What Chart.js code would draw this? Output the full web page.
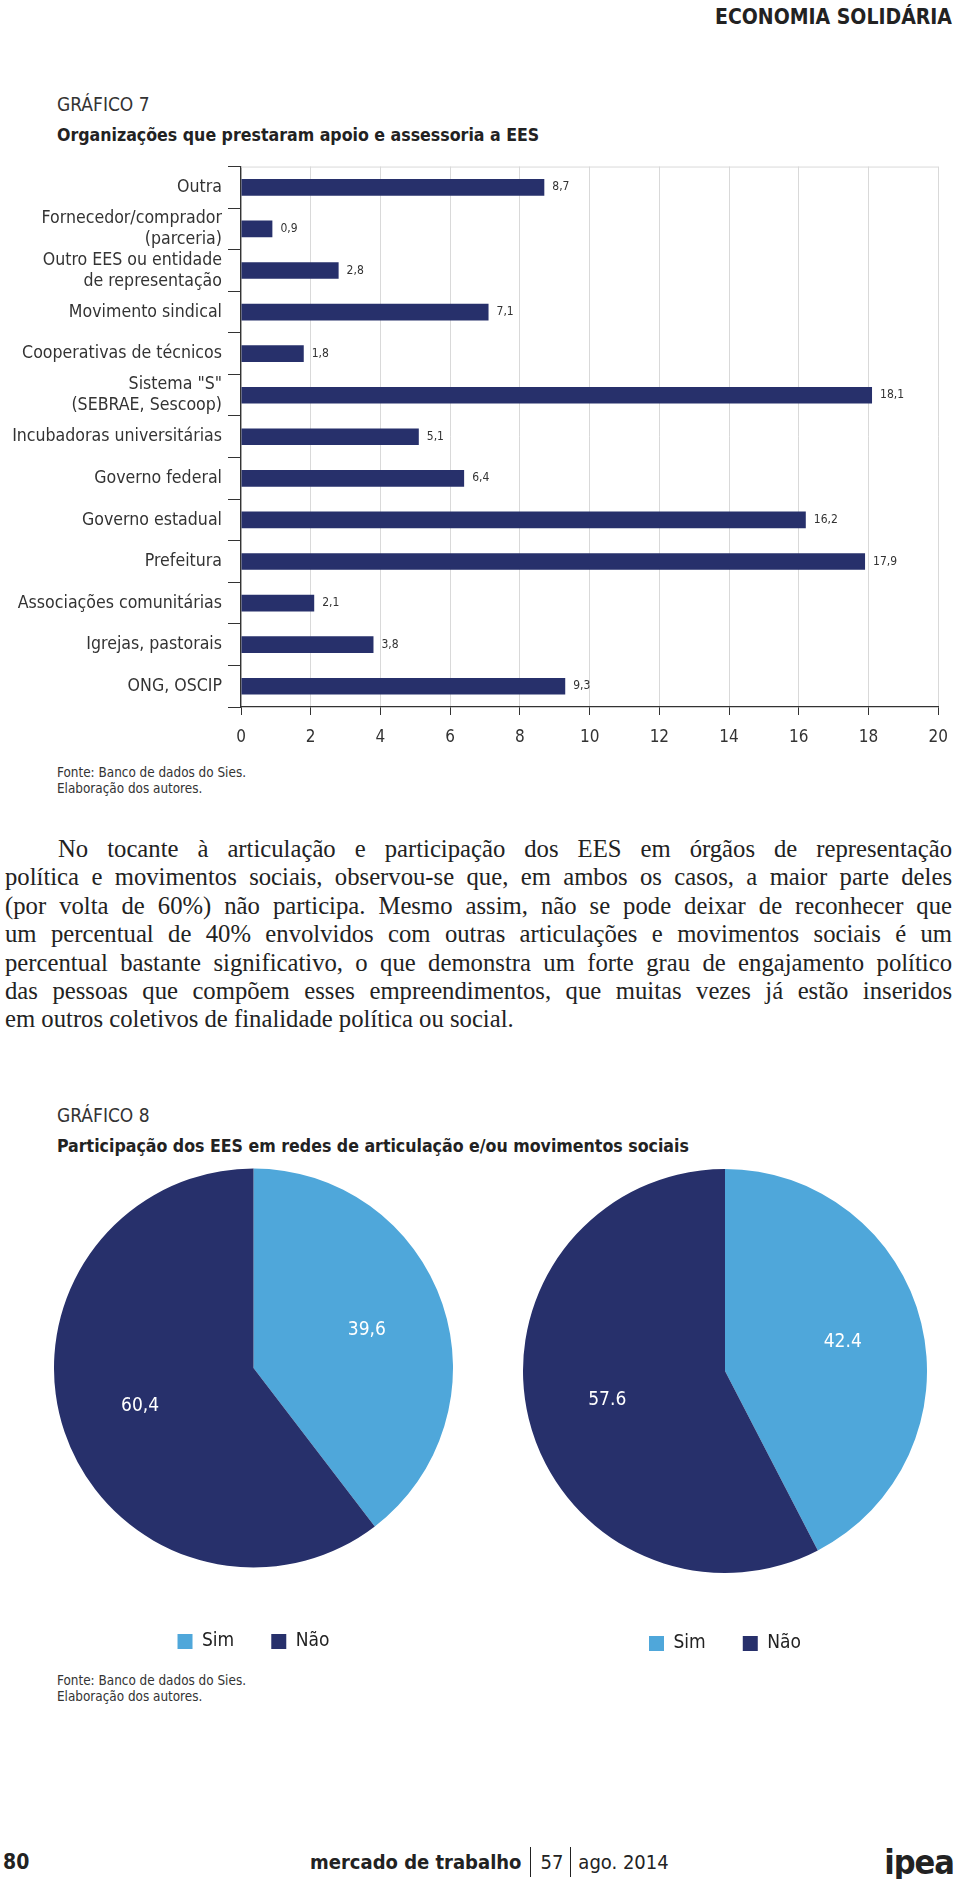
<!DOCTYPE html>
<html lang="pt">
<head>
<meta charset="utf-8">
<title>Gráficos 7 e 8 - Economia solidária</title>
<script src="https://cdn.jsdelivr.net/npm/chart.js@4.4.0/dist/chart.umd.min.js"></script>
<style>
body{margin:0;width:960px;height:1879px;position:relative;background:#fff;overflow:hidden;
  font-family:'Liberation Sans Narrow','DejaVu Sans Condensed',sans-serif;color:#222}
.t{position:absolute;white-space:nowrap}
.head{right:8px;top:4px;font-size:21px;line-height:26px;font-weight:bold}
.num{left:57px;font-size:19px;line-height:24px;color:#333}
.sub{left:57px;font-size:17.6px;line-height:24px;font-weight:bold}
.fonte{left:57px;font-size:13.4px;line-height:16px;color:#333}
.par{position:absolute;left:5px;top:835px;width:947px;font-family:'Liberation Serif','DejaVu Serif',serif;font-size:24.7px;line-height:28.4px;color:#222}
.par div{text-align:justify;text-align-last:justify;white-space:nowrap}
.par div.first{padding-left:53px}
.par div.last{text-align-last:left}
canvas{position:absolute}
.foot{position:absolute;top:1846px;height:32px;display:flex;align-items:center;font-size:20px;color:#222}
.sep{display:inline-block;height:30px;border-left:1.5px solid #222;margin:0 9px}
</style>
</head>
<body>

<div class="t head">ECONOMIA SOLIDÁRIA</div>

<div class="t num" style="top:92px">GRÁFICO 7</div>
<div class="t sub" style="top:123px">Organizações que prestaram apoio e assessoria a EES</div>

<canvas id="bars" width="960" height="610" style="left:0;top:150px"></canvas>

<div class="t fonte" style="top:765px">Fonte: Banco de dados do Sies.<br>Elaboração dos autores.</div>

<div class="par">
<div class="first">No tocante à articulação e participação dos EES em órgãos de representação</div>
<div>política e movimentos sociais, observou-se que, em ambos os casos, a maior parte deles</div>
<div>(por volta de 60%) não participa. Mesmo assim, não se pode deixar de reconhecer que</div>
<div>um percentual de 40% envolvidos com outras articulações e movimentos sociais é um</div>
<div>percentual bastante significativo, o que demonstra um forte grau de engajamento político</div>
<div>das pessoas que compõem esses empreendimentos, que muitas vezes já estão inseridos</div>
<div class="last">em outros coletivos de finalidade política ou social.</div>
</div>

<div class="t num" style="top:1103px">GRÁFICO 8</div>
<div class="t sub" style="top:1134px">Participação dos EES em redes de articulação e/ou movimentos sociais</div>

<canvas id="pieA" width="399" height="520" style="left:53.5px;top:1141px"></canvas>
<canvas id="pieB" width="404" height="518" style="left:523px;top:1144.5px"></canvas>

<div class="t fonte" style="top:1673px">Fonte: Banco de dados do Sies.<br>Elaboração dos autores.</div>

<div class="foot" style="left:3px;font-weight:bold;font-size:21px">80</div>
<div class="foot" style="left:310px"><b>mercado de trabalho</b><span class="sep"></span>57<span class="sep" style="margin:0 7px"></span>ago. 2014</div>
<div class="foot" style="right:6px;font-weight:bold;font-size:34px;letter-spacing:-1px">ipea</div>

<script>
const FONT = "'Liberation Sans Narrow','DejaVu Sans Condensed',sans-serif";

/* GRAFICO 7 data */

const categories = [
"Outra",
["Fornecedor/comprador","(parceria)"],
["Outro EES ou entidade","de representação"],
"Movimento sindical",
"Cooperativas de técnicos",
['Sistema "S"',"(SEBRAE, Sescoop)"],
"Incubadoras universitárias",
"Governo federal",
"Governo estadual",
"Prefeitura",
"Associações comunitárias",
"Igrejas, pastorais",
"ONG, OSCIP"
];

const apoio = [8.7, 0.9, 2.8, 7.1, 1.8, 18.1, 5.1, 6.4, 16.2, 17.9, 2.1, 3.8, 9.3];

const xMin = 0;
const xMax = 20;
const xStep = 2;

/* GRAFICO 8 data */

const pieLabels = ["Sim","Não"];
const participaA = [39.6, 60.4];
const participaB = [42.4, 57.6];

const navy = "#27306b";
const lightBlue = "#4fa7da";

Chart.defaults.font.family = FONT;
Chart.defaults.color = "#333";


/* plugins */

const topLine = {
id:"topLine",
beforeDatasetsDraw(chart){
const a = chart.chartArea, c = chart.ctx;
c.save();
c.strokeStyle = "#d9d9d9";
c.lineWidth = 1;
c.beginPath();
c.moveTo(a.left, a.top+0.5);
c.lineTo(a.right, a.top+0.5);
c.stroke();
c.restore();
}
};

const barValues = {
id:"barValues",
afterDatasetsDraw(chart){
const c = chart.ctx;
const meta = chart.getDatasetMeta(0);
c.save();
c.font = "12px "+FONT;
c.fillStyle = "#333";
c.textAlign = "left";
c.textBaseline = "middle";
meta.data.forEach((bar,i)=>{
c.fillText(String(apoio[i]).replace(".",","), bar.x+8, bar.y);
});
c.restore();
}
};

const pieValues = {
id:"pieValues",
afterDatasetsDraw(chart, args, opts){
const c = chart.ctx;
const meta = chart.getDatasetMeta(0);
const data = chart.data.datasets[0].data;
c.save();
c.font = "19px "+FONT;
c.fillStyle = "#fff";
c.textAlign = "center";
c.textBaseline = "middle";
meta.data.forEach((arc,i)=>{
const mid = (arc.startAngle+arc.endAngle)/2;
const r = arc.outerRadius*0.6;
let txt = data[i].toFixed(1);
if(opts.comma) txt = txt.replace(".",",");
c.fillText(txt, arc.x+Math.cos(mid)*r, arc.y+Math.sin(mid)*r);
});
c.restore();
}
};


/* BAR CHART */

new Chart(document.getElementById("bars"),{
type:"bar",
data:{
labels:categories,
datasets:[{
data:apoio,
backgroundColor:navy,
borderWidth:0,
barPercentage:0.4,
categoryPercentage:1.0
}]
},
options:{
indexAxis:"y",
responsive:false,
animation:false,
events:[],
layout:{padding:{top:10.7,right:13,bottom:0,left:0}},
plugins:{legend:{display:false},tooltip:{enabled:false}},
scales:{
x:{
min:xMin,
max:xMax,
ticks:{stepSize:xStep,font:{size:17},color:"#333",padding:12},
grid:{color:"#d9d9d9",tickColor:"#333",tickLength:8,lineWidth:1},
border:{color:"#333",width:1.3},
afterFit(axis){axis.height=53;}
},
y:{
ticks:{font:{size:17.6,lineHeight:1.2},color:"#333",padding:6,autoSkip:false},
grid:{offset:true,drawOnChartArea:false,tickLength:13,color:"#333",tickColor:"#333"},
border:{color:"#333",width:1.3},
afterFit(axis){axis.width=241;}
}
}
},
plugins:[topLine,barValues]
});


/* PIE CHARTS */

function makePie(id, values, comma){
return new Chart(document.getElementById(id),{
type:"pie",
data:{
labels:pieLabels,
datasets:[{
data:values,
backgroundColor:[lightBlue,navy],
borderWidth:0,
offset:0,
hoverOffset:0
}]
},
options:{
responsive:false,
animation:false,
events:[],
layout:{padding:0},
plugins:{
tooltip:{enabled:false},
pieValues:{comma:comma},
legend:{
position:"bottom",
labels:{boxWidth:15,boxHeight:15,padding:37,color:"#222",font:{size:19}}
}
}
},
plugins:[pieValues]
});
}

makePie("pieA", participaA, true);
makePie("pieB", participaB, false);
</script>
</body>
</html>
